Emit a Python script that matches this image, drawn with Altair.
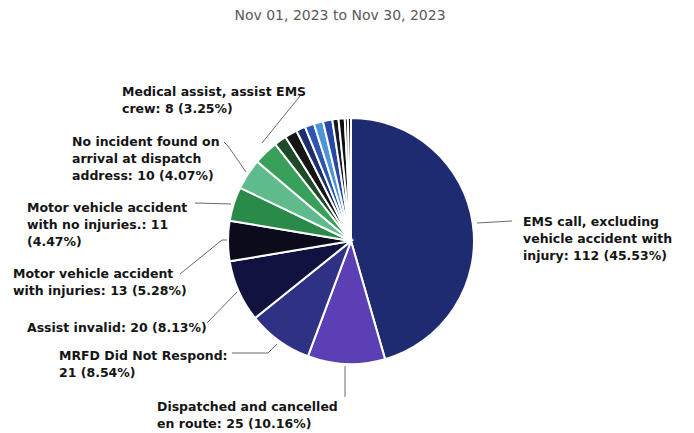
import altair as alt
import pandas as pd

# ---------------- data ----------------
categories = [
    "EMS call, excluding vehicle accident with injury",
    "Dispatched and cancelled en route",
    "MRFD Did Not Respond",
    "Assist invalid",
    "Motor vehicle accident with injuries",
    "Motor vehicle accident with no injuries.",
    "No incident found on arrival at dispatch address",
    "Medical assist, assist EMS crew",
    "Other 1", "Other 2", "Other 3", "Other 4", "Other 5",
    "Other 6", "Other 7", "Other 8", "Other 9", "Other 10",
]
counts = [112, 25, 21, 20, 13, 11, 10, 8, 4, 4, 3, 3, 3, 3, 2, 2, 1, 1]

label_lines = [
    ["EMS call, excluding", "vehicle accident with", "injury: 112 (45.53%)"],
    ["Dispatched and cancelled", "en route: 25 (10.16%)"],
    ["MRFD Did Not Respond:", "21 (8.54%)"],
    ["Assist invalid: 20 (8.13%)"],
    ["Motor vehicle accident", "with injuries: 13 (5.28%)"],
    ["Motor vehicle accident", "with no injuries.: 11", "(4.47%)"],
    ["No incident found on", "arrival at dispatch", "address: 10 (4.07%)"],
    ["Medical assist, assist EMS", "crew: 8 (3.25%)"],
]

title_text = "Nov 01, 2023 to Nov 30, 2023"

# ---------------- styles / layout ----------------
colors = [
    "#1f2b70", "#5a3fb5", "#2e3184", "#121240", "#0c0b1c",
    "#2a8a4a", "#5fbb8c", "#38a05a",
    "#1f4a28", "#151515", "#1d2f6e", "#2c56b0", "#4d95d8",
    "#2848a8", "#15182c", "#0e0e0e", "#2a2a3a", "#101010",
]

OFF = 8  # page margin
label_pos = [(523, 226), (157, 411), (59, 360), (27, 332), (13, 278),
             (27, 212), (72, 146), (122, 96)]
leaders = [
    [(477, 223), (512, 221)],
    [(345, 397), (345, 366)],
    [(232, 353), (268, 353), (277, 344)],
    [(207, 323), (237, 292)],
    [(180, 274), (222, 240), (227, 240)],
    [(195, 203), (231, 204)],
    [(224, 142), (228, 146), (246, 172)],
    [(300, 96), (262, 143)],
]
CX, CY, R = 351, 241, 123

# ---------------- tables ----------------
pie_df = pd.DataFrame({
    "cat": categories,
    "value": counts,
    "idx": list(range(len(categories))),
})

lab_df = pd.DataFrame({
    "text": ["\n".join(l) for l in label_lines],
    "px": [p[0] - OFF for p in label_pos],
    "py": [p[1] - OFF for p in label_pos],
})

segs = []
for pts in leaders:
    for (x1, y1), (x2, y2) in zip(pts[:-1], pts[1:]):
        segs.append({"x1": x1 - OFF, "y1": y1 - OFF, "x2": x2 - OFF, "y2": y2 - OFF})
seg_df = pd.DataFrame(segs)

title_df = pd.DataFrame({"text": [title_text], "px": [340 - OFF], "py": [20 - OFF]})

# ---------------- chart ----------------
pie = alt.Chart(pie_df).mark_arc(radius=R, stroke="white", strokeWidth=2).encode(
    theta=alt.Theta("value:Q", stack=True),
    color=alt.Color("cat:N", scale=alt.Scale(domain=categories, range=colors), legend=None),
    order=alt.Order("idx:Q"),
    x=alt.value(CX - OFF),
    y=alt.value(CY - OFF),
)

lines = alt.Chart(seg_df).mark_rule(color="#6a6a6a", strokeWidth=1).encode(
    x=alt.X("x1:Q", scale=None, axis=None),
    y=alt.Y("y1:Q", scale=None, axis=None),
    x2="x2:Q",
    y2="y2:Q",
)

labels = alt.Chart(lab_df).mark_text(
    align="left", baseline="alphabetic", font="DejaVu Sans", fontWeight="bold",
    fontSize=12.5, lineHeight=17, lineBreak="\n", color="#151515",
).encode(
    x=alt.X("px:Q", scale=None, axis=None),
    y=alt.Y("py:Q", scale=None, axis=None),
    text="text:N",
)

title = alt.Chart(title_df).mark_text(
    align="center", baseline="alphabetic", font="DejaVu Sans", fontSize=14,
    color="#5a5a5a",
).encode(
    x=alt.X("px:Q", scale=None, axis=None),
    y=alt.Y("py:Q", scale=None, axis=None),
    text="text:N",
)

chart = alt.layer(pie, lines, labels, title).properties(
    width=678, height=425,
    autosize=alt.AutoSizeParams(type="none"),
    padding=0,
).configure_view(stroke=None)

chart.save("out.html", embed_options={"renderer": "svg", "actions": False})
